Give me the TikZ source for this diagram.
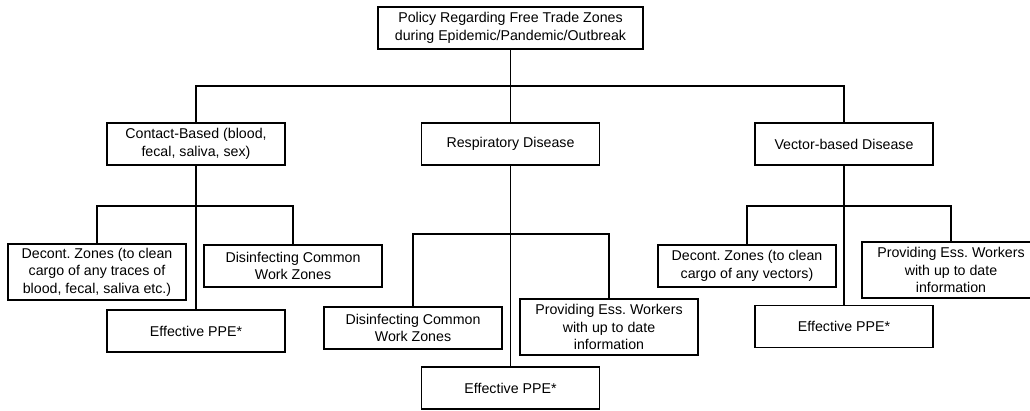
\documentclass[tikz,border=0pt]{standalone}
\usepackage{fontspec}
\setmainfont{Liberation Sans}
\frenchspacing
\begin{document}
\begin{tikzpicture}[x=1pt,y=-1pt,line width=1.6pt,
		box/.style={draw,align=center,minimum width=178pt,minimum height=42pt,inner sep=2pt,font=\fontsize{14.2}{17.5}\selectfont},
		tallbox/.style={box,minimum height=56pt}]
			\useasboundingbox (0,0) rectangle (1030,410);
			\node[box,minimum width=265pt] (policy) at (510.5,28) {Policy Regarding Free Trade Zones\\during Epidemic/Pandemic/Outbreak};
			\node[box] (contact) at (196,144) {Contact-Based (blood,\\fecal, saliva, sex)};
			\node[box] (resp) at (510.5,144) {Respiratory Disease};
			\node[box] (vector) at (844,144) {Vector-based Disease};
			% contact-based
			\node[tallbox] (decontL) at (97,272) {Decont. Zones (to clean\\cargo of any traces of\\blood, fecal, saliva etc.)};
			\node[box] (disinfL) at (293,266) {Disinfecting Common\\Work Zones};
			\node[box] (ppeL) at (196,331) {Effective PPE*};
			% respiratory
			\node[box] (disinfM) at (413,328) {Disinfecting Common\\Work Zones};
			\node[tallbox] (infoM) at (609,327) {Providing Ess. Workers\\with up to date\\information};
			\node[box] (ppeM) at (510.5,388) {Effective PPE*};
			% vector-based
			\node[box] (decontR) at (747,266) {Decont. Zones (to clean\\cargo of any vectors)};
			\node[tallbox] (infoR) at (951,270) {Providing Ess. Workers\\with up to date\\information};
			\node[box] (ppeR) at (844,326.5) {Effective PPE*};
			\coordinate (top) at (510.5,86);
			\coordinate (jL) at (196,206);
			\coordinate (jM) at (510.5,234);
			\coordinate (jR) at (844,206);
			\draw (policy) -- (top);
			\draw (contact.north) |- (top) -| (vector.north);
			\draw (top) -- (resp);
			\draw (contact) -- (ppeL);
			\draw (decontL.north) |- (jL) -| (disinfL.north);
			\draw (resp) -- (ppeM);
			\draw (disinfM.north) |- (jM) -| (infoM.north);
			\draw (vector) -- (ppeR);
			\draw (decontR.north) |- (jR) -| (infoR.north);
		\end{tikzpicture}
\end{document}
